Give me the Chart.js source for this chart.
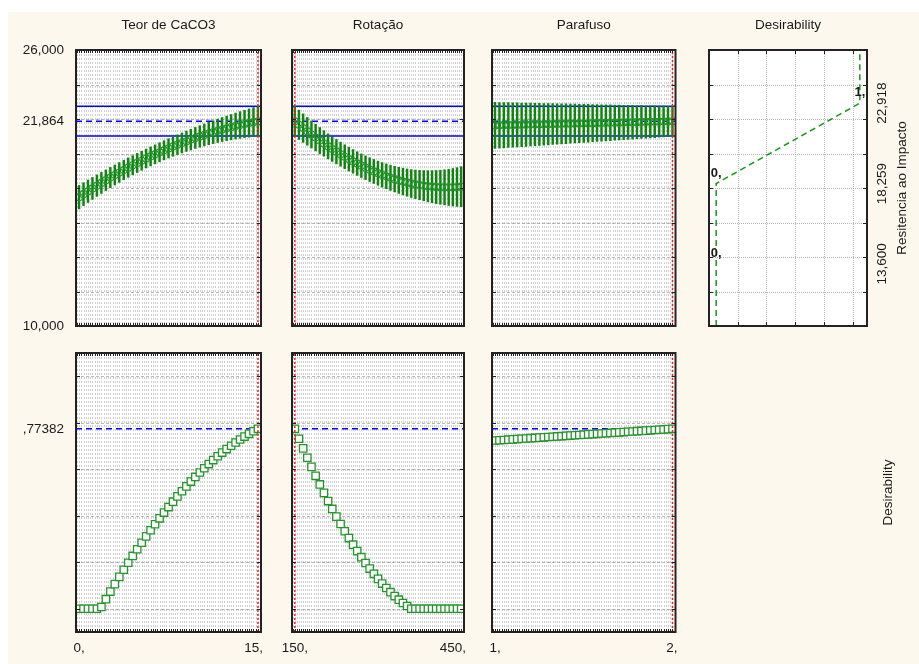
<!DOCTYPE html>
<html lang="pt">
<head>
<meta charset="utf-8">
<title>Perfil de desejabilidade</title>
<script src="https://cdn.jsdelivr.net/npm/chart.js@4.4.1/dist/chart.umd.min.js"></script>
<style>
  html, body { margin: 0; padding: 0; background: #ffffff; }
  #page { position: relative; width: 919px; height: 664px; overflow: hidden; background: #ffffff; }
  #paper { position: absolute; left: 8px; top: 12px; right: 0; bottom: 0; background: #fcf8ee; }
  #page canvas { position: absolute; left: 0; top: 0; }
</style>
</head>
<body>
<div id="page">
  <div id="paper"></div>
  <canvas id="t0" width="919" height="664"></canvas>
  <canvas id="t1" width="919" height="664"></canvas>
  <canvas id="t2" width="919" height="664"></canvas>
  <canvas id="df" width="919" height="664"></canvas>
  <canvas id="b0" width="919" height="664"></canvas>
  <canvas id="b1" width="919" height="664"></canvas>
  <canvas id="b2" width="919" height="664"></canvas>
</div>
<script>
// factors (columns)
const factorNames = ['Teor de CaCO3', 'Rotação', 'Parafuso'];
const factorLow = [0, 150, 1];
const factorHigh = [15, 450, 2];
const factorCurrent = [15, 150, 2];
const factorTickLabels = [['0,', '15,'], ['150,', '450,'], ['1,', '2,']];
const nSteps = 40;

// predicted Resitencia ao Impacto and half width of the interval
const teorMean = [17470, 17642, 17810, 17975, 18137, 18295, 18451, 18603, 18752, 18898,
  19041, 19181, 19318, 19451, 19581, 19709, 19833, 19953, 20071, 20186,
  20297, 20405, 20511, 20613, 20711, 20807, 20900, 20989, 21075, 21158,
  21238, 21315, 21389, 21459, 21526, 21590, 21651, 21709, 21764, 21816, 21864];
const teorHalf = [680, 664, 649, 635, 622, 610, 599, 589, 580, 573,
  566, 561, 556, 553, 551, 550, 550, 551, 553, 556,
  560, 565, 572, 579, 588, 597, 608, 620, 632, 646,
  661, 677, 694, 713, 732, 752, 774, 796, 820, 844, 870];
const rotMean = [21864, 21666, 21473, 21285, 21102, 20923, 20750, 20581, 20417, 20259,
  20105, 19957, 19813, 19675, 19543, 19415, 19293, 19176, 19064, 18959,
  18858, 18763, 18675, 18591, 18513, 18441, 18375, 18314, 18259, 18210,
  18167, 18131, 18100, 18075, 18056, 18044, 18038, 18038, 18044, 18057, 18076];
const rotHalf = [870, 847, 825, 804, 786, 768, 753, 739, 726, 716,
  706, 699, 692, 688, 685, 683, 684, 685, 689, 694,
  700, 708, 718, 729, 742, 756, 772, 789, 808, 829,
  851, 875, 900, 927, 956, 986, 1018, 1051, 1086, 1122, 1160];
const parMean = [21630, 21636, 21641, 21648, 21653, 21659, 21665, 21671, 21677, 21683,
  21689, 21694, 21700, 21706, 21712, 21718, 21724, 21729, 21735, 21741,
  21747, 21753, 21759, 21765, 21770, 21776, 21782, 21788, 21794, 21800,
  21806, 21811, 21817, 21823, 21829, 21835, 21841, 21846, 21852, 21858, 21864];
const parHalf = [1335, 1323, 1312, 1300, 1289, 1277, 1265, 1254, 1242, 1230,
  1219, 1207, 1196, 1184, 1172, 1161, 1149, 1137, 1126, 1114,
  1103, 1091, 1079, 1068, 1056, 1044, 1033, 1021, 1010, 998,
  986, 975, 963, 951, 940, 928, 917, 905, 893, 882, 870];

// desirability along each factor
const teorDes = [0, 0, 0, 0, 0, 0.0077, 0.0412, 0.0738, 0.1058, 0.1372,
  0.1678, 0.1979, 0.2273, 0.2558, 0.2838, 0.3112, 0.3378, 0.3636, 0.3889, 0.4136,
  0.4374, 0.4606, 0.4834, 0.5053, 0.5263, 0.5469, 0.5669, 0.5860, 0.6044, 0.6222,
  0.6394, 0.6559, 0.6718, 0.6868, 0.7012, 0.7150, 0.7281, 0.7405, 0.7523, 0.7635, 0.7738];
const rotDes = [0.7738, 0.7313, 0.6898, 0.6495, 0.6102, 0.5718, 0.5347, 0.4984, 0.4632, 0.4293,
  0.3962, 0.3645, 0.3335, 0.3039, 0.2756, 0.2481, 0.2219, 0.1968, 0.1728, 0.1502,
  0.1286, 0.1082, 0.0893, 0.0713, 0.0545, 0.0391, 0.0249, 0.0118, 0, 0,
  0, 0, 0, 0, 0, 0, 0, 0, 0, 0, 0];
const parDes = [0.7235, 0.7248, 0.7260, 0.7273, 0.7285, 0.7298, 0.7310, 0.7323, 0.7336, 0.7348,
  0.7361, 0.7373, 0.7386, 0.7398, 0.7411, 0.7423, 0.7436, 0.7449, 0.7461, 0.7474,
  0.7486, 0.7499, 0.7511, 0.7524, 0.7536, 0.7549, 0.7562, 0.7574, 0.7587, 0.7599,
  0.7612, 0.7624, 0.7637, 0.7649, 0.7662, 0.7675, 0.7687, 0.7700, 0.7712, 0.7725, 0.7738];

// response axis
const respCurrent = 21864;
const respCiLow = 21015;
const respCiHigh = 22736;
const respMin = 10000, respMax = 26000;
const respGrid = [12000, 14000, 16000, 18000, 20000, 22000, 24000];
const respTickValues = [26000, 21864, 10000];
const respTickLabels = ['26,000', '21,864', '10,000'];

// desirability axis
const desCurrent = 0.77382;
const desMin = -0.1, desMax = 1.1;
const desGrid = [0, 0.2, 0.4, 0.6, 0.8, 1];
const desTickLabel = ',77382';

// desirability function of the response (right top panel)
const dfResp = [13600, 18259, 22918];
const dfDes = [0, 0, 1];
const dfPointLabels = ['0,', '0,', '1,'];
const dfTickLabels = ['13,600', '18,259', '22,918'];
const dfMin = -0.05, dfMax = 1.05;
const dfGridX = [0.15, 0.35, 0.55, 0.75, 0.95];

const meanList = [teorMean, rotMean, parMean];
const halfList = [teorHalf, rotHalf, parHalf];
const desList = [teorDes, rotDes, parDes];

// layout
const W = 919, H = 664;
const colX = [[76, 261], [292, 464], [492, 675.5]];
const dfX = [709, 867];
const topY = [50, 326];
const botY = [353, 632];
const xPad = 0.017;
const FONT = '13.5px "Liberation Sans", Arial, sans-serif';
const BOLD = 'bold 13px "Liberation Sans", Arial, sans-serif';
const GREEN = '#23952a';
const BAR_GREEN = '#0f840f';
const BLUE = '#0000ff';
const RED = '#ff1c1c';

function levels(i) {
  const lo = factorLow[i], hi = factorHigh[i];
  return Array.from({ length: nSteps + 1 }, (_, k) => lo + (hi - lo) * k / nSteps);
}

function xLimits(i) {
  const r = factorHigh[i] - factorLow[i];
  return [factorLow[i] - xPad * r, factorHigh[i] + xPad * r];
}

function denseGrid(i) {
  const [mn, mx] = xLimits(i);
  const lo = factorLow[i], step = (factorHigh[i] - lo) / 80, out = [];
  for (let k = Math.ceil((mn - lo) / step); lo + k * step <= mx + 1e-9; k++) out.push(lo + k * step);
  return out;
}

function hline(v, x0, x1, dash, order) {
  return { type: 'line', data: [{ x: x0, y: v }, { x: x1, y: v }], borderColor: BLUE, borderWidth: 1.5,
    borderDash: dash, pointRadius: 0, order: order };
}

function vline(v, y0, y1) {
  return { type: 'line', data: [{ x: v, y: y0 }, { x: v, y: y1 }], borderColor: RED, borderWidth: 1.5,
    borderDash: [2, 2], pointRadius: 0, order: 0 };
}

function txt(ctx, s, x, y, opt) {
  const o = Object.assign({ align: 'center', base: 'middle', font: FONT, rot: 0 }, opt || {});
  ctx.save();
  ctx.translate(x, y);
  if (o.rot) ctx.rotate(o.rot);
  ctx.font = o.font;
  ctx.fillStyle = '#1a1a1a';
  ctx.textAlign = o.align;
  ctx.textBaseline = o.base;
  ctx.fillText(s, 0, 0);
  ctx.restore();
}

// grid, frame, inward ticks and texts
function makeDeco(cfg) {
  return {
    id: 'deco',
    beforeDatasetsDraw(chart) {
      const { ctx, chartArea: a, scales: { x, y } } = chart;
      ctx.save();
      ctx.fillStyle = '#ffffff';
      ctx.fillRect(a.left, a.top, a.width, a.height);
      ctx.lineWidth = 1;
      ctx.strokeStyle = cfg.vColor;
      ctx.setLineDash(cfg.vDash);
      cfg.xGrid.forEach(v => {
        const p = Math.round(x.getPixelForValue(v)) + 0.5;
        ctx.beginPath(); ctx.moveTo(p, a.top); ctx.lineTo(p, a.bottom); ctx.stroke();
      });
      ctx.strokeStyle = cfg.hColor;
      ctx.setLineDash(cfg.hDash);
      cfg.yGrid.forEach(v => {
        const p = Math.round(y.getPixelForValue(v)) + 0.5;
        ctx.beginPath(); ctx.moveTo(a.left, p); ctx.lineTo(a.right, p); ctx.stroke();
      });
      ctx.restore();
    },
    afterDatasetsDraw(chart) {
      const { ctx, chartArea: a, scales: { x, y } } = chart;
      ctx.save();
      ctx.setLineDash([]);
      ctx.strokeStyle = '#222222';
      ctx.lineWidth = 1;
      cfg.xGrid.forEach(v => {
        const p = Math.round(x.getPixelForValue(v)) + 0.5;
        ctx.beginPath();
        ctx.moveTo(p, a.top); ctx.lineTo(p, a.top + cfg.xTick);
        ctx.moveTo(p, a.bottom); ctx.lineTo(p, a.bottom - cfg.xTick);
        ctx.stroke();
      });
      cfg.yGrid.forEach(v => {
        const p = Math.round(y.getPixelForValue(v)) + 0.5;
        ctx.beginPath();
        ctx.moveTo(a.left, p); ctx.lineTo(a.left + 4, p);
        ctx.moveTo(a.right, p); ctx.lineTo(a.right - 4, p);
        ctx.stroke();
      });
      ctx.lineWidth = 2;
      ctx.strokeRect(a.left, a.top, a.width, a.height);
      ctx.restore();
      cfg.labels(chart, ctx);
    }
  };
}

function makeChart(id, xr, yr, xs, ys, datasets, deco) {
  return new Chart(document.getElementById(id), {
    type: 'line',
    data: { datasets: datasets },
    options: {
      responsive: false,
      animation: false,
      events: [],
      layout: { autoPadding: false, padding: { left: xr[0], right: W - xr[1], top: yr[0], bottom: H - yr[1] } },
      plugins: { legend: { display: false }, tooltip: { enabled: false }, title: { display: false } },
      scales: {
        x: { type: 'linear', min: xs[0], max: xs[1], offset: false,
          grid: { display: false, drawTicks: false }, ticks: { display: false }, border: { display: false } },
        y: { type: 'linear', min: ys[0], max: ys[1],
          grid: { display: false, drawTicks: false }, ticks: { display: false }, border: { display: false } }
      }
    },
    plugins: [deco]
  });
}

// top row: response profiles
for (let i = 0; i < 3; i++) {
  const xs = levels(i), lim = xLimits(i);
  const mean = meanList[i], half = halfList[i];
  makeChart('t' + i, colX[i], topY, lim, [respMin, respMax], [
    vline(factorCurrent[i], respMin, respMax),
    { type: 'line', data: xs.map((x, k) => ({ x: x, y: mean[k] })), showLine: false,
      pointStyle: 'circle', pointRadius: 3.5, pointBorderWidth: 1.2, pointBorderColor: GREEN,
      pointBackgroundColor: 'rgba(0,0,0,0)', order: 1 },
    { type: 'bar', data: xs.map((x, k) => ({ x: x, y: [mean[k] - half[k], mean[k] + half[k]] })),
      backgroundColor: BAR_GREEN, borderWidth: 0, barThickness: 1.8, grouped: false, order: 2 },
    hline(respCiHigh, lim[0], lim[1], [], 3),
    hline(respCiLow, lim[0], lim[1], [], 3),
    hline(respCurrent, lim[0], lim[1], [6, 4], 3)
  ], makeDeco({
    xGrid: denseGrid(i), yGrid: respGrid, xTick: 3,
    vColor: 'rgba(150,150,150,0.45)', vDash: [2, 2], hColor: 'rgba(140,140,140,0.6)', hDash: [3, 2],
    labels: (chart, ctx) => {
      const { chartArea: a, scales: { y } } = chart;
      txt(ctx, factorNames[i], (a.left + a.right) / 2, a.top - 25);
      if (i === 0) {
        respTickValues.forEach((v, j) => txt(ctx, respTickLabels[j], a.left - 12, y.getPixelForValue(v), { align: 'right' }));
      }
    }
  }));
}

// top right: desirability function of the response
makeChart('df', dfX, topY, [dfMin, dfMax], [respMin, respMax], [
  { type: 'line',
    data: [{ x: dfDes[0], y: respMin }].concat(dfResp.map((v, j) => ({ x: dfDes[j], y: v })), [{ x: dfDes[2], y: respMax }]),
    borderColor: '#169a16', borderWidth: 1.5, borderDash: [6, 4], pointRadius: 0, tension: 0, order: 1 }
], makeDeco({
  xGrid: dfGridX, yGrid: respGrid, xTick: 4,
  vColor: 'rgba(150,150,150,0.7)', vDash: [1, 1], hColor: 'rgba(150,150,150,0.7)', hDash: [1, 1],
  labels: (chart, ctx) => {
    const { chartArea: a, scales: { x, y } } = chart;
    txt(ctx, 'Desirability', (a.left + a.right) / 2, a.top - 25);
    dfResp.forEach((v, j) => {
      txt(ctx, dfTickLabels[j], a.right + 15.5, y.getPixelForValue(v), { rot: -Math.PI / 2 });
      txt(ctx, dfPointLabels[j], x.getPixelForValue(dfDes[j]), y.getPixelForValue(v) - 4, { base: 'bottom', font: BOLD });
    });
    txt(ctx, 'Resitencia ao Impacto', a.right + 35, (a.top + a.bottom) / 2, { rot: -Math.PI / 2 });
  }
}));

// bottom row: desirability profiles
for (let i = 0; i < 3; i++) {
  const xs = levels(i), lim = xLimits(i);
  const des = desList[i];
  makeChart('b' + i, colX[i], botY, lim, [desMin, desMax], [
    vline(factorCurrent[i], desMin, desMax),
    { type: 'line', data: xs.map((x, k) => ({ x: x, y: des[k] })), showLine: false,
      pointStyle: 'rect', pointRadius: 5.2, pointBorderWidth: 1.3, pointBorderColor: GREEN,
      pointBackgroundColor: '#ffffff', order: 1 },
    hline(desCurrent, lim[0], lim[1], [6, 4], 3)
  ], makeDeco({
    xGrid: denseGrid(i), yGrid: desGrid, xTick: 3,
    vColor: 'rgba(150,150,150,0.45)', vDash: [2, 2], hColor: 'rgba(140,140,140,0.6)', hDash: [3, 2],
    labels: (chart, ctx) => {
      const { chartArea: a, scales: { x, y } } = chart;
      const [l0, l1] = factorTickLabels[i];
      txt(ctx, l0, x.getPixelForValue(factorLow[i]), a.bottom + 16);
      ctx.font = FONT;
      const w = ctx.measureText(l1).width;
      txt(ctx, l1, Math.min(x.getPixelForValue(factorHigh[i]), a.right + 2 - w / 2), a.bottom + 16);
      if (i === 0) txt(ctx, desTickLabel, a.left - 12, y.getPixelForValue(desCurrent), { align: 'right' });
      if (i === 2) txt(ctx, 'Desirability', dfX[1] + 21, (a.top + a.bottom) / 2, { rot: -Math.PI / 2 });
    }
  }));
}
</script>
</body>
</html>
